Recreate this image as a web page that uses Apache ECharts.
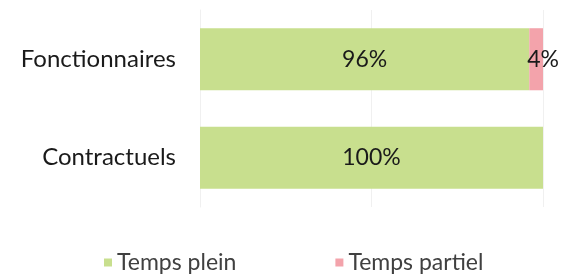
<!DOCTYPE html>
<html>
<head>
<meta charset="utf-8">
<script src="https://cdn.jsdelivr.net/npm/echarts@6/dist/echarts.min.js"></script>
<style>
  html, body { margin: 0; padding: 0; background: #fff; }
  #container { width: 572px; height: 277px; }
</style>
</head>
<body>
<div id="container"></div>
<script>
// data
var categories = ['Fonctionnaires', 'Contractuels'];
var seriesNames = ['Temps plein', 'Temps partiel'];
var tempsPlein = [96, 100];
var tempsPartiel = [4, 0];

var green = '#c8df8e';
var pink = '#f3a3ab';

var dom = document.getElementById('container');
var myChart = echarts.init(dom, null, { renderer: 'canvas' });

var labelFont = {
    fontFamily: 'Lato',
    fontSize: 23,
    color: '#1a1a1a'
};

var option = {
    animation: false,
    grid: {
        left: 200,
        right: 29,
        top: 10,
        bottom: 70
    },
    legend: {
        bottom: -2,
        left: 99,
        itemWidth: 8,
        itemHeight: 8,
        itemGap: 99,
        icon: 'rect',
        textStyle: {
            fontFamily: 'Lato',
            fontSize: 23,
            color: '#404040'
        },
        data: seriesNames
    },
    xAxis: {
        type: 'value',
        min: 0,
        max: 100,
        interval: 50,
        axisLabel: { show: false },
        axisLine: { show: false },
        axisTick: { show: false },
        splitLine: { lineStyle: { color: '#f0f0f0' } }
    },
    yAxis: {
        type: 'category',
        inverse: true,
        data: categories,
        axisLine: { show: true, lineStyle: { color: '#f0f0f0' } },
        axisTick: { show: false },
        axisLabel: {
            margin: 24,
            fontFamily: 'Lato',
            fontSize: 24,
            color: '#1a1a1a'
        }
    },
    series: [
        {
            name: seriesNames[0],
            type: 'bar',
            stack: 'total',
            barWidth: '63%',
            itemStyle: { color: green },
            label: Object.assign({
                show: true,
                position: 'inside',
                formatter: '{c}%'
            }, labelFont),
            data: tempsPlein
        },
        {
            name: seriesNames[1],
            type: 'bar',
            stack: 'total',
            itemStyle: { color: pink },
            label: Object.assign({
                show: true,
                position: 'inside',
                offset: [7, 0],
                formatter: function (p) { return p.value > 0 ? p.value + '%' : ''; }
            }, labelFont),
            data: tempsPartiel
        }
    ]
};

myChart.setOption(option);
window.addEventListener('resize', myChart.resize);
</script>
</body>
</html>
